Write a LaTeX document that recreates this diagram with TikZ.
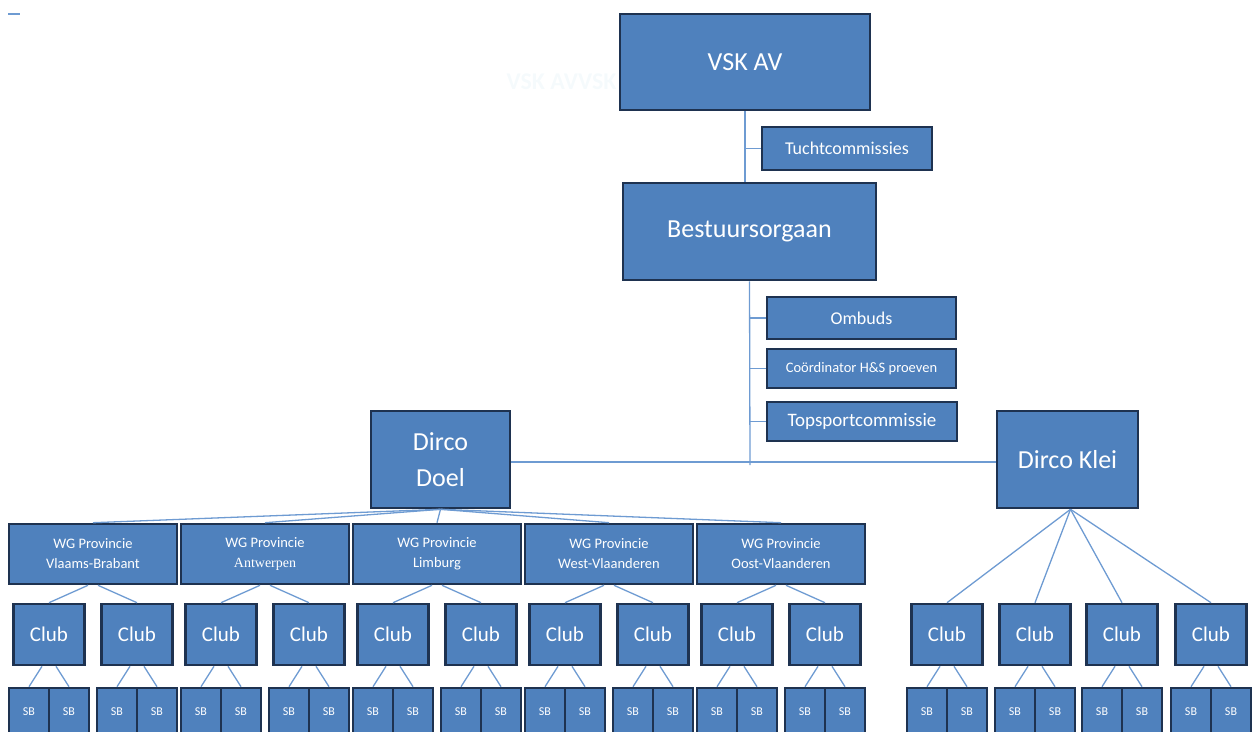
\documentclass[tikz,border=0pt]{standalone}
\usepackage{fontspec}
\setmainfont{Carlito}
\newfontfamily\wgserif{Liberation Serif}
\usepackage{tikz}
\definecolor{boxfill}{RGB}{79,129,189}
\definecolor{boxline}{RGB}{30,50,80}
\definecolor{linkblue}{RGB}{110,155,210}
\definecolor{ghost}{RGB}{245,250,252}

\begin{document}
\begin{tikzpicture}[x=1pt, y=-1pt,
  box/.style={draw=boxline, line width=2.6pt, fill=boxfill, text=white, inner sep=0pt, align=center},
  link/.style={draw=linkblue, line width=1.3pt},
  big/.style={box, font=\fontsize{26}{36}\selectfont},
  side/.style={box, font=\fontsize{18}{22}\selectfont},
  wg/.style={box, minimum width=168pt, minimum height=60pt, font=\fontsize{14.5}{20}\selectfont},
  club/.style={box, minimum width=71pt, minimum height=61pt, font=\fontsize{21}{24}\selectfont},
  sb/.style={box, minimum width=40pt, minimum height=48pt, font=\fontsize{12}{14}\selectfont}]
\useasboundingbox (0,0) rectangle (1253,731);
\clip (0,0) rectangle (1253,731);
\draw[link] (8,14) -- (20,14);
\node[text=ghost, font=\fontsize{24}{28}\selectfont\bfseries, anchor=west] (echo) at (503,82) {VSK AVVSK};

\node[big, minimum width=250pt, minimum height=96pt] (vsk) at (745,62) {VSK AV};
\node[side, minimum width=170pt, minimum height=43pt] (tucht) at (847,148.5) {Tuchtcommissies};
\node[big, minimum width=253pt, minimum height=97pt] (best) at (749.5,231.5) {Bestuursorgaan};
\node[side, minimum width=189pt, minimum height=42pt] (omb) at (861.5,318) {Ombuds};
\node[side, minimum width=189pt, minimum height=39pt, font=\fontsize{14.5}{18}\selectfont] (coord) at (861.5,368.5) {Coördinator H\&S proeven};
\node[side, minimum width=190pt, minimum height=39pt, font=\fontsize{19}{22}\selectfont] (topc) at (862,421.5) {Topsportcommissie};
\node[big, minimum width=139pt, minimum height=97pt] (doel) at (440.5,459.5) {Dirco\\Doel};
\node[big, minimum width=141pt, minimum height=97pt] (klei) at (1067.5,459.5) {Dirco Klei};
\coordinate (hub) at (750,465);
\coordinate (junction) at (750,462);

\node[wg] (wg1) at (93,554) {WG Provincie\\Vlaams-Brabant};
\node[wg] (wg2) at (265,554) {WG Provincie\\{\wgserif\fontsize{14}{20}\selectfont Antwerpen}};
\node[wg] (wg3) at (437,554) {WG Provincie\\Limburg};
\node[wg] (wg4) at (609,554) {WG Provincie\\West-Vlaanderen};
\node[wg] (wg5) at (781,554) {WG Provincie\\Oost-Vlaanderen};

\node[club] (c1) at (49,634.5) {Club};
\node[club] (c2) at (137,634.5) {Club};
\node[club] (c3) at (221,634.5) {Club};
\node[club] (c4) at (309,634.5) {Club};
\node[club] (c5) at (393,634.5) {Club};
\node[club] (c6) at (481,634.5) {Club};
\node[club] (c7) at (565,634.5) {Club};
\node[club] (c8) at (653,634.5) {Club};
\node[club] (c9) at (737,634.5) {Club};
\node[club] (c10) at (825,634.5) {Club};
\node[club] (k1) at (947,634.5) {Club};
\node[club] (k2) at (1035,634.5) {Club};
\node[club] (k3) at (1122,634.5) {Club};
\node[club] (k4) at (1211,634.5) {Club};

\node[sb] (s1) at (29,712) {SB}; \node[sb] (s2) at (69,712) {SB};
\node[sb] (s3) at (117,712) {SB}; \node[sb] (s4) at (157,712) {SB};
\node[sb] (s5) at (201,712) {SB}; \node[sb] (s6) at (241,712) {SB};
\node[sb] (s7) at (289,712) {SB}; \node[sb] (s8) at (329,712) {SB};
\node[sb] (s9) at (373,712) {SB}; \node[sb] (s10) at (413,712) {SB};
\node[sb] (s11) at (461,712) {SB}; \node[sb] (s12) at (501,712) {SB};
\node[sb] (s13) at (545,712) {SB}; \node[sb] (s14) at (585,712) {SB};
\node[sb] (s15) at (633,712) {SB}; \node[sb] (s16) at (673,712) {SB};
\node[sb] (s17) at (717,712) {SB}; \node[sb] (s18) at (757,712) {SB};
\node[sb] (s19) at (805,712) {SB}; \node[sb] (s20) at (845,712) {SB};
\node[sb] (s21) at (927,712) {SB}; \node[sb] (s22) at (967,712) {SB};
\node[sb] (s23) at (1015,712) {SB}; \node[sb] (s24) at (1055,712) {SB};
\node[sb] (s25) at (1102,712) {SB}; \node[sb] (s26) at (1142,712) {SB};
\node[sb] (s27) at (1191,712) {SB}; \node[sb] (s28) at (1231,712) {SB};

\draw[link] (vsk.south) -- (vsk.south |- best.north);
\draw[link] (vsk.south |- tucht) -- (tucht.west);
\draw[link] (best.south) -- (hub);
\draw[link] (best.south |- omb) -- (omb.west);
\draw[link] (best.south |- coord) -- (coord.west);
\draw[link] (best.south |- topc) -- (topc.west);
\draw[link] (doel.east |- junction) -- (klei.west |- junction);

\draw[link] (doel.south) -- (wg1.north);
\draw[link] (doel.south) -- (wg2.north);
\draw[link] (doel.south) -- (wg3.north);
\draw[link] (doel.south) -- (wg4.north);
\draw[link] (doel.south) -- (wg5.north);
\draw[link] ([xshift=3pt]klei.south) -- (k1.north);
\draw[link] ([xshift=3pt]klei.south) -- (k2.north);
\draw[link] ([xshift=3pt]klei.south) -- (k3.north);
\draw[link] ([xshift=3pt]klei.south) -- (k4.north);

\draw[link] ([xshift=-5pt]wg1.south) -- (c1.north);
\draw[link] ([xshift=5pt]wg1.south) -- (c2.north);
\draw[link] ([xshift=-5pt]wg2.south) -- (c3.north);
\draw[link] ([xshift=5pt]wg2.south) -- (c4.north);
\draw[link] ([xshift=-5pt]wg3.south) -- (c5.north);
\draw[link] ([xshift=5pt]wg3.south) -- (c6.north);
\draw[link] ([xshift=-5pt]wg4.south) -- (c7.north);
\draw[link] ([xshift=5pt]wg4.south) -- (c8.north);
\draw[link] ([xshift=-5pt]wg5.south) -- (c9.north);
\draw[link] ([xshift=5pt]wg5.south) -- (c10.north);

\draw[link] ([xshift=-7pt]c1.south) -- (s1.north);
\draw[link] ([xshift=7pt]c1.south) -- (s2.north);
\draw[link] ([xshift=-7pt]c2.south) -- (s3.north);
\draw[link] ([xshift=7pt]c2.south) -- (s4.north);
\draw[link] ([xshift=-7pt]c3.south) -- (s5.north);
\draw[link] ([xshift=7pt]c3.south) -- (s6.north);
\draw[link] ([xshift=-7pt]c4.south) -- (s7.north);
\draw[link] ([xshift=7pt]c4.south) -- (s8.north);
\draw[link] ([xshift=-7pt]c5.south) -- (s9.north);
\draw[link] ([xshift=7pt]c5.south) -- (s10.north);
\draw[link] ([xshift=-7pt]c6.south) -- (s11.north);
\draw[link] ([xshift=7pt]c6.south) -- (s12.north);
\draw[link] ([xshift=-7pt]c7.south) -- (s13.north);
\draw[link] ([xshift=7pt]c7.south) -- (s14.north);
\draw[link] ([xshift=-7pt]c8.south) -- (s15.north);
\draw[link] ([xshift=7pt]c8.south) -- (s16.north);
\draw[link] ([xshift=-7pt]c9.south) -- (s17.north);
\draw[link] ([xshift=7pt]c9.south) -- (s18.north);
\draw[link] ([xshift=-7pt]c10.south) -- (s19.north);
\draw[link] ([xshift=7pt]c10.south) -- (s20.north);
\draw[link] ([xshift=-7pt]k1.south) -- (s21.north);
\draw[link] ([xshift=7pt]k1.south) -- (s22.north);
\draw[link] ([xshift=-7pt]k2.south) -- (s23.north);
\draw[link] ([xshift=7pt]k2.south) -- (s24.north);
\draw[link] ([xshift=-7pt]k3.south) -- (s25.north);
\draw[link] ([xshift=7pt]k3.south) -- (s26.north);
\draw[link] ([xshift=-7pt]k4.south) -- (s27.north);
\draw[link] ([xshift=7pt]k4.south) -- (s28.north);
\end{tikzpicture}
\end{document}
